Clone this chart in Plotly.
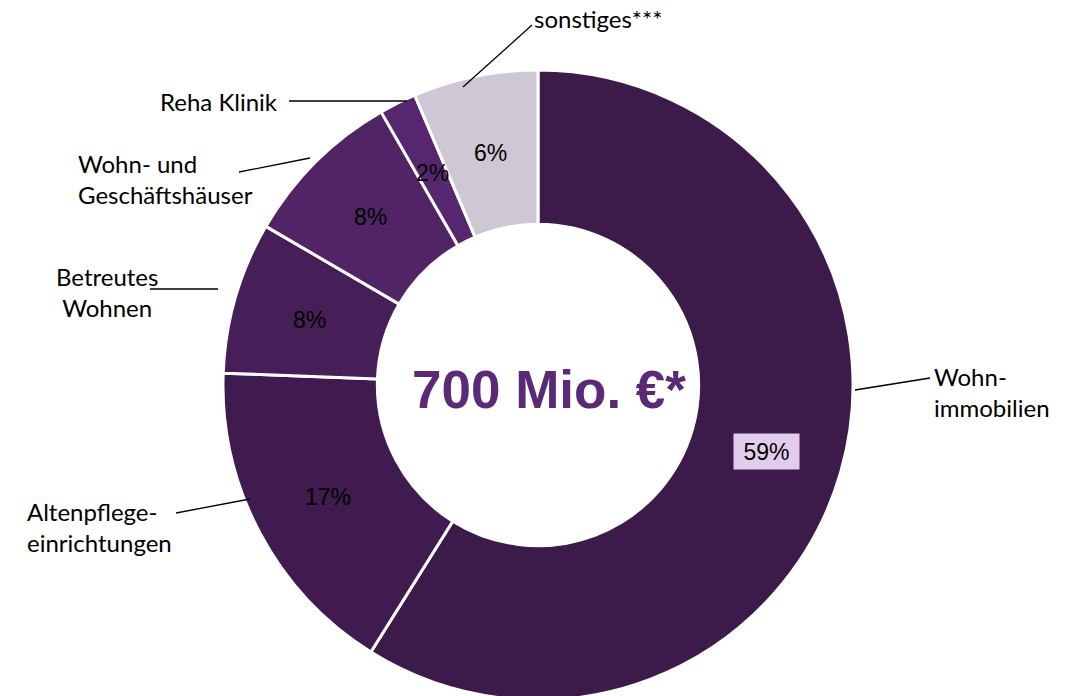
import math
import plotly.graph_objects as go

categories = ["Wohnimmobilien", "Altenpflegeeinrichtungen", "Betreutes Wohnen",
              "Wohn- und Geschäftshäuser", "Reha Klinik", "sonstiges***"]
values = [58.9, 16.7, 7.8, 8.3, 1.9, 6.4]
label_texts = ["Wohn-<br>immobilien", "Altenpflege-<br>einrichtungen", "Betreutes<br>Wohnen",
               "Wohn- und<br>Geschäftshäuser", "Reha Klinik", "sonstiges***"]
colors = ["#3C1A4A", "#3F1B4F", "#461F58", "#512466", "#56276F", "#CEC8D5"]
center_text = "700 Mio. €*"

W, H = 1076, 700   # figure slightly taller than the 696 window; bottom of ring is cut off
MT = 70
PH = H - MT
CX, CY = W / 2, MT + PH / 2
R = PH / 2
HOLE = 0.51


def px(x):
    return x / W


def py(y):
    return (H - y) / PH


fig = go.Figure(go.Pie(
    labels=categories, values=values, sort=False, direction="clockwise",
    rotation=0, hole=HOLE, textinfo="none", hoverinfo="label+percent",
    marker=dict(colors=colors, line=dict(color="white", width=3)),
    showlegend=False, domain=dict(x=[0, 1], y=[0, 1]),
))

ann = []
# percentage labels computed from the data
total = sum(values)
cum = 0
rmid = R * (1 + HOLE) / 2
for i, v in enumerate(values):
    mid = (cum + v / 2) / total * 2 * math.pi
    cum += v
    x = CX + rmid * math.sin(mid)
    y = CY - rmid * math.cos(mid)
    pct = f"{round(v / total * 100)}%"
    a = dict(x=px(x), y=py(y + 1), xref="paper", yref="paper", text=pct, showarrow=False,
             xanchor="center", yanchor="middle",
             font=dict(family="Liberation Sans, Arial", size=23, color="black"))
    if i == 0:
        a.update(bgcolor="#E2CCEC", borderpad=1, width=63, height=33)
    ann.append(a)

# outside labels
lab_pos = [  # (x, y, xanchor, align)
    (932, 392, "left", "left"),
    (25, 527, "left", "left"),
    (107, 292, "center", "center"),
    (76, 179, "left", "left"),
    (158, 101, "left", "left"),
    (532, 18, "left", "left"),
]
for t, (x, y, xa, al) in zip(label_texts, lab_pos):
    ann.append(dict(x=px(x), y=py(y), xref="paper", yref="paper", text=t, showarrow=False,
                    xanchor=xa, yanchor="middle", align=al,
                    font=dict(family="Lato, sans-serif", size=24, color="black")))

ann.append(dict(x=px(549), y=py(CY + 4), xref="paper", yref="paper", text=f"<b>{center_text}</b>",
                showarrow=False, xanchor="center", yanchor="middle",
                font=dict(family="Liberation Sans, Arial", size=53, color="#5B2A77")))

lines = [
    ((855, 390), (930, 378)),
    ((250, 499), (176, 513)),
    ((150, 289), (218, 289)),
    ((310, 158), (239, 172)),
    ((407, 101), (289, 101)),
    ((463, 87), (532, 25)),
]
shapes = [dict(type="line", xref="paper", yref="paper", x0=px(a[0]), y0=py(a[1]),
               x1=px(b[0]), y1=py(b[1]), line=dict(color="black", width=1.3)) for a, b in lines]

fig.update_layout(width=W, height=H, margin=dict(l=0, r=0, t=MT, b=0, pad=0),
                  paper_bgcolor="white", plot_bgcolor="white",
                  annotations=ann, shapes=shapes)
fig.write_html("out.html", config=dict(displayModeBar=False))

with open("out.html", encoding="utf-8") as f:
    html = f.read()
html = html.replace("<head>", "<head><style>html,body{margin:0;padding:0;overflow:hidden}</style>", 1)
with open("out.html", "w", encoding="utf-8") as f:
    f.write(html)
